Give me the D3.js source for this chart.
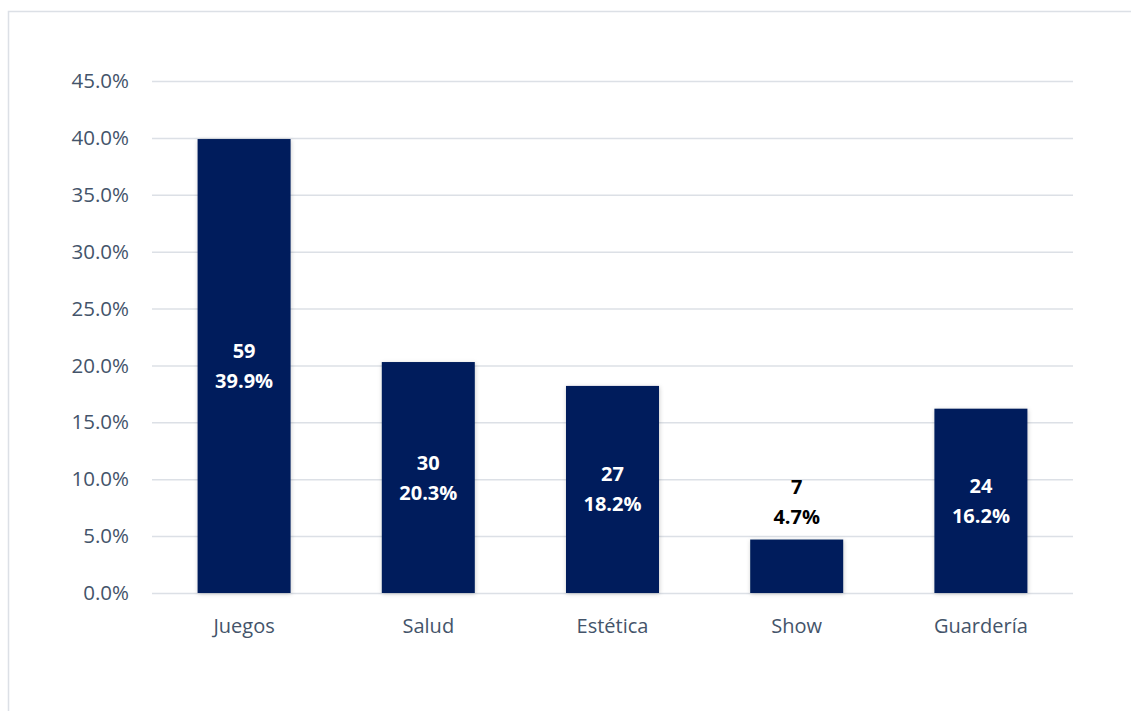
<!DOCTYPE html>
<html>
<head>
<meta charset="utf-8">
<script src="https://cdn.jsdelivr.net/npm/d3@7"></script>
<style>
  html, body { margin: 0; padding: 0; background: #ffffff; }
  svg { display: block; }
  text { font-family: "Open Sans", Lato, "Liberation Sans", sans-serif; }
</style>
</head>
<body>
<svg id="chart" width="1131" height="711"></svg>
<script>
// Categories and values
const categories = ["Juegos", "Salud", "Estética", "Show", "Guardería"];
const counts = [59, 30, 27, 7, 24];
const percents = [39.9, 20.3, 18.2, 4.7, 16.2];
const yTicks = [0, 5, 10, 15, 20, 25, 30, 35, 40, 45];

const data = categories.map((c, i) => ({ cat: c, n: counts[i], p: percents[i] }));

const svg = d3.select("#chart");

// Outer frame
svg.append("rect")
  .attr("x", 8.5).attr("y", 11.5)
  .attr("width", 1130).attr("height", 720)
  .attr("fill", "none")
  .attr("stroke", "#DCE0E6")
  .attr("stroke-width", 1.5);

const margin = { left: 152, right: 1073, top: 81, bottom: 593 };

const x = d3.scaleBand()
  .domain(categories)
  .range([margin.left, margin.right])
  .paddingInner(0.495)
  .paddingOuter(0.2475);

const y = d3.scaleLinear()
  .domain([0, 45])
  .range([margin.bottom, margin.top]);

// Soft shadow around bars
const defs = svg.append("defs");
const f = defs.append("filter").attr("id", "shadow")
  .attr("x", "-10%").attr("y", "-10%").attr("width", "120%").attr("height", "120%");
f.append("feDropShadow")
  .attr("dx", 0.5).attr("dy", 1).attr("stdDeviation", 2)
  .attr("flood-color", "#000").attr("flood-opacity", 0.2);

// Gridlines and y axis labels
const yAxis = d3.axisLeft(y)
  .tickValues(yTicks)
  .tickSize(-(margin.right - margin.left))
  .tickPadding(23)
  .tickFormat(d => d.toFixed(1) + "%");

const gy = svg.append("g")
  .attr("transform", `translate(${margin.left},0)`)
  .call(yAxis);
gy.select(".domain").remove();
gy.selectAll(".tick line")
  .attr("stroke", "#DCE0E6")
  .attr("stroke-width", 1.5);
gy.selectAll(".tick text")
  .attr("fill", "#44546A")
  .attr("font-size", 20.5);

// Bars
svg.append("g").selectAll("rect")
  .data(data)
  .join("rect")
  .attr("x", d => x(d.cat))
  .attr("y", d => y(d.p))
  .attr("width", x.bandwidth())
  .attr("height", d => y(0) - y(d.p))
  .attr("fill", "#001F5C")
  .attr("filter", "url(#shadow)");

// Category labels
const xAxis = d3.axisBottom(x).tickSize(0).tickPadding(26);
const gx = svg.append("g")
  .attr("transform", `translate(0,${margin.bottom})`)
  .call(xAxis);
gx.select(".domain").remove();
gx.selectAll(".tick text")
  .attr("fill", "#44546A")
  .attr("font-size", 20);

// Data labels: count and percentage
const labels = svg.append("g").selectAll("g")
  .data(data)
  .join("g")
  .attr("transform", d => {
    const cx = x(d.cat) + x.bandwidth() / 2;
    const h = y(0) - y(d.p);
    const cy = h > 70 ? (y(d.p) + y(0)) / 2 : y(d.p) - 38;
    return `translate(${cx},${cy})`;
  });

labels.each(function(d) {
  const g = d3.select(this);
  const inside = (y(0) - y(d.p)) > 70;
  const col = inside ? "#ffffff" : "#000000";
  g.append("text")
    .attr("text-anchor", "middle")
    .attr("y", -8)
    .attr("font-size", 20)
    .attr("font-weight", "bold")
    .attr("fill", col)
    .text(d.n);
  g.append("text")
    .attr("text-anchor", "middle")
    .attr("y", 22)
    .attr("font-size", 20)
    .attr("font-weight", "bold")
    .attr("fill", col)
    .text(d.p.toFixed(1) + "%");
});
</script>
</body>
</html>
